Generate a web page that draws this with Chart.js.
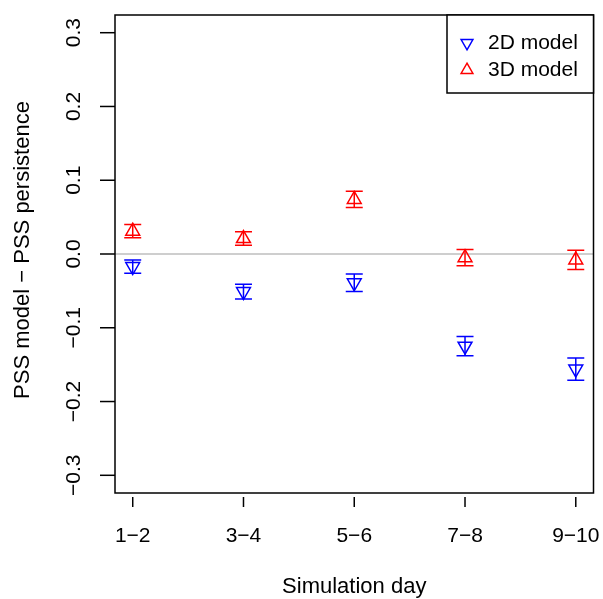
<!DOCTYPE html>
<html>
<head>
<meta charset="utf-8">
<script src="https://cdn.jsdelivr.net/npm/chart.js@4/dist/chart.umd.min.js"></script>
<style>
  html, body { margin: 0; padding: 0; background: #fff; }
  canvas { display: block; }
</style>
</head>
<body>
<canvas id="pss" width="603" height="599"></canvas>
<script>
"use strict";
// simulation day groups on the x axis
const categories = ["1\u22122", "3\u22124", "5\u22126", "7\u22128", "9\u221210"];
const xPos = [1, 2, 3, 4, 5];
// PSS model - PSS persistence, with half-width of the error bars
const model2D = [-0.017, -0.051, -0.039, -0.125, -0.156];
const err2D = [0.009, 0.010, 0.012, 0.013, 0.015];
const model3D = [0.031, 0.021, 0.074, -0.005, -0.008];
const err3D = [0.009, 0.009, 0.011, 0.011, 0.013];
const yTicks = [-0.3, -0.2, -0.1, 0.0, 0.1, 0.2, 0.3];

const FAMILY = "'Liberation Sans', Arial, Helvetica, sans-serif";
const FONT = "21px " + FAMILY;
const TITLE_FONT = "22px " + FAMILY;
const fmt = (v) => v.toFixed(1).replace("-", "\u2212");

const rPlot = {
    id: "rPlot",
    beforeDatasetsDraw(chart) {
        const { ctx, chartArea: a, scales } = chart;
        const y0 = scales.y.getPixelForValue(0);
        ctx.save();
        ctx.strokeStyle = "#bebebe";
        ctx.lineWidth = 1.5;
        ctx.beginPath();
        ctx.moveTo(a.left, y0);
        ctx.lineTo(a.right, y0);
        ctx.stroke();
        // error bars
        chart.data.datasets.forEach((ds) => {
            ctx.strokeStyle = ds.borderColor;
            ctx.lineWidth = 1.5;
            ds.data.forEach((p, i) => {
                const px = scales.x.getPixelForValue(p.x);
                const top = scales.y.getPixelForValue(p.y + ds.errors[i]);
                const bot = scales.y.getPixelForValue(p.y - ds.errors[i]);
                ctx.beginPath();
                ctx.moveTo(px, top);
                ctx.lineTo(px, bot);
                ctx.moveTo(px - 8.5, top);
                ctx.lineTo(px + 8.5, top);
                ctx.moveTo(px - 8.5, bot);
                ctx.lineTo(px + 8.5, bot);
                ctx.stroke();
            });
        });
        ctx.restore();
    },
    afterDraw(chart) {
        const { ctx, chartArea: a, scales } = chart;
        ctx.save();
        ctx.strokeStyle = "#000";
        ctx.lineWidth = 1.5;
        ctx.strokeRect(a.left, a.top, a.right - a.left, a.bottom - a.top);

        ctx.fillStyle = "#000";
        ctx.font = FONT;
        ctx.textAlign = "center";
        ctx.textBaseline = "middle";

        // x axis
        xPos.forEach((v, i) => {
            const px = scales.x.getPixelForValue(v);
            ctx.beginPath();
            ctx.moveTo(px, a.bottom + 4);
            ctx.lineTo(px, a.bottom + 14);
            ctx.stroke();
            ctx.fillText(categories[i], px, 536);
        });

        // y axis
        yTicks.forEach((v) => {
            const py = scales.y.getPixelForValue(v);
            ctx.beginPath();
            ctx.moveTo(a.left - 15, py);
            ctx.lineTo(a.left, py);
            ctx.stroke();
            ctx.save();
            ctx.translate(74, py);
            ctx.rotate(-Math.PI / 2);
            ctx.fillText(fmt(v), 0, 0);
            ctx.restore();
        });

        ctx.font = TITLE_FONT;
        ctx.fillText("Simulation day", (a.left + a.right) / 2, 587);
        ctx.save();
        ctx.translate(23, 250);
        ctx.rotate(-Math.PI / 2);
        ctx.fillText("PSS model \u2212 PSS persistence", 0, 0);
        ctx.restore();

        // legend in the top right corner
        ctx.font = FONT;
        const lx = 447, ly = a.top;
        ctx.fillStyle = "#fff";
        ctx.fillRect(lx, ly, a.right - lx, 93 - ly);
        ctx.strokeRect(lx, ly, a.right - lx, 93 - ly);
        ctx.textAlign = "left";
        chart.data.datasets.forEach((ds, i) => {
            const cy = 43 + i * 27;
            const r = 6.8;
            const dir = ds.pointRotation === 180 ? -1 : 1;
            ctx.strokeStyle = ds.borderColor;
            ctx.lineWidth = 1.5;
            ctx.beginPath();
            for (let k = 0; k < 3; k++) {
                const ang = -Math.PI / 2 + k * 2 * Math.PI / 3;
                const x = 467 + r * Math.cos(ang);
                const y = cy + dir * r * Math.sin(ang);
                if (k === 0) ctx.moveTo(x, y); else ctx.lineTo(x, y);
            }
            ctx.closePath();
            ctx.stroke();
            ctx.fillStyle = "#000";
            ctx.fillText(ds.label, 488, cy);
        });
        ctx.restore();
    }
};

const toPoints = (vals) => vals.map((v, i) => ({ x: xPos[i], y: v }));

new Chart(document.getElementById("pss"), {
    type: "scatter",
    data: {
        datasets: [
            {
                label: "2D model",
                data: toPoints(model2D),
                errors: err2D,
                borderColor: "#0000ff",
                pointBackgroundColor: "rgba(0,0,0,0)",
                pointStyle: "triangle",
                pointRotation: 180,
                pointRadius: 8,
                pointBorderWidth: 1.5,
            },
            {
                label: "3D model",
                data: toPoints(model3D),
                errors: err3D,
                borderColor: "#ff0000",
                pointBackgroundColor: "rgba(0,0,0,0)",
                pointStyle: "triangle",
                pointRotation: 0,
                pointRadius: 8,
                pointBorderWidth: 1.5,
            },
        ],
    },
    options: {
        responsive: false,
        animation: false,
        layout: { padding: { left: 115, top: 15, right: 9, bottom: 106 } },
        plugins: { legend: { display: false }, tooltip: { enabled: false } },
        scales: {
            x: { type: "linear", min: 0.84, max: 5.16, display: false },
            y: { type: "linear", min: -0.324, max: 0.324, display: false },
        },
    },
    plugins: [rPlot],
});
</script>
</body>
</html>
